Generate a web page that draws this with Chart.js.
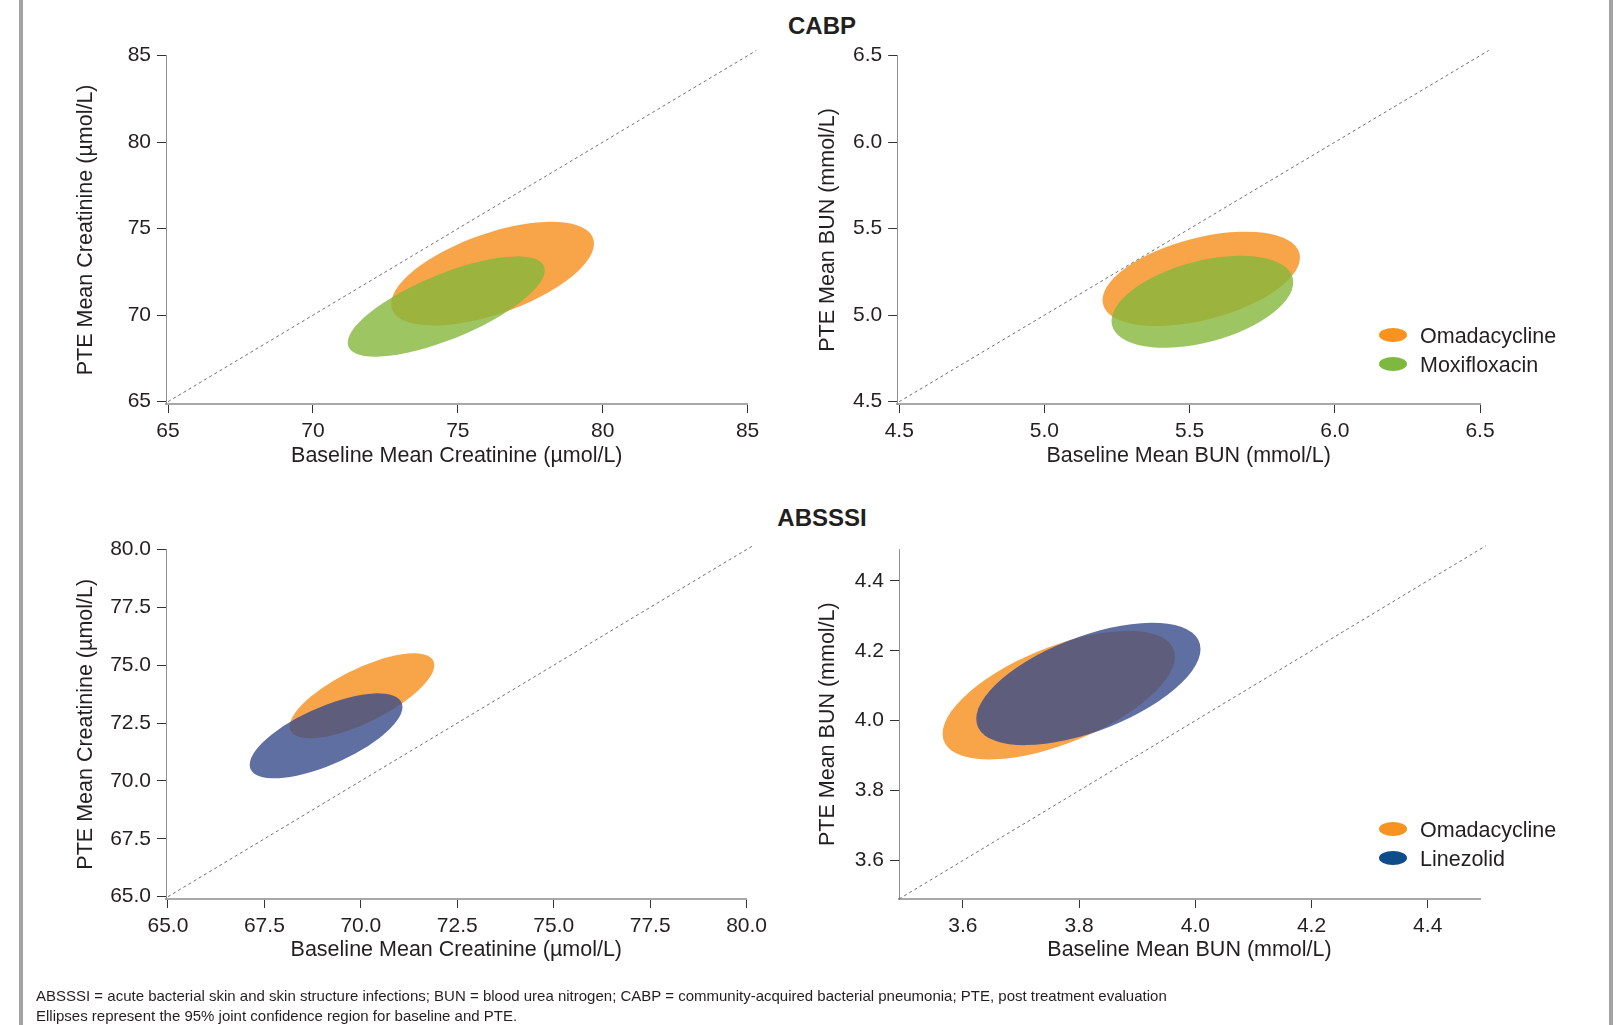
<!DOCTYPE html>
<html>
<head>
<meta charset="utf-8">
<script src="https://cdn.jsdelivr.net/npm/chart.js@4.4.1/dist/chart.umd.min.js"></script>
<style>
    html, body { margin: 0; padding: 0; background: #fff; }
    body { width: 1617px; height: 1025px; position: relative; overflow: hidden;
           font-family: "Liberation Sans", Arial, sans-serif; color: #231f20; }
    .frame { position: absolute; top: 0; width: 4px; height: 1025px; background: #a3a3a3; }
    .panel { position: absolute; }
    .section { position: absolute; left: 722px; width: 200px; text-align: center;
               font-weight: bold; font-size: 24px; line-height: 28px; }
    .legend { position: absolute; left: 1379px; font-size: 21.5px; }
    .legend div { height: 29px; line-height: 29px; white-space: nowrap; }
    .legend span { display: inline-block; width: 28px; height: 14px; border-radius: 50%;
                   vertical-align: middle; margin-right: 13px; position: relative; top: -2px; }
    .note { position: absolute; left: 36px; top: 986px; font-size: 15px; line-height: 20px; }
</style>
</head>
<body>
<div class="frame" style="left:19px"></div>
<div class="frame" style="left:1609px"></div>

<div class="section" style="top:12px">CABP</div>
<div class="section" style="top:504px">ABSSSI</div>

<canvas id="cabpCreat" class="panel"></canvas>
<canvas id="cabpBun" class="panel"></canvas>
<canvas id="absCreat" class="panel"></canvas>
<canvas id="absBun" class="panel"></canvas>

<div class="legend" id="legendCabp" style="top:322px"></div>
<div class="legend" id="legendAbs" style="top:816px"></div>

<div class="note">ABSSSI = acute bacterial skin and skin structure infections; BUN = blood urea nitrogen; CABP = community-acquired bacterial pneumonia; PTE, post treatment evaluation<br>Ellipses represent the 95% joint confidence region for baseline and PTE.</div>

<script>
// DATA

// arms in each study (first one is drawn first)
const cabpArms = ['Omadacycline', 'Moxifloxacin']
const absArms = ['Omadacycline', 'Linezolid']

// ellipses: centre, half width (x), half height (y), correlation
const cabpCreatCenterX = [76.2, 74.6]
const cabpCreatCenterY = [72.4, 70.5]
const cabpCreatHalfX = [3.5, 3.4]
const cabpCreatHalfY = [3.0, 2.9]
const cabpCreatCorr = [0.58, 0.72]

const cabpBunCenterX = [5.54, 5.544]
const cabpBunCenterY = [5.21, 5.078]
const cabpBunHalfX = [0.34, 0.313]
const cabpBunHalfY = [0.273, 0.266]
const cabpBunCorr = [0.45, 0.42]

const absCreatCenterX = [70.03, 69.1]
const absCreatCenterY = [73.68, 71.95]
const absCreatHalfX = [1.875, 1.98]
const absCreatHalfY = [1.835, 1.835]
const absCreatCorr = [0.72, 0.68]

const absBunCenterX = [3.765, 3.816]
const absBunCenterY = [4.073, 4.105]
const absBunHalfX = [0.2, 0.193]
const absBunHalfY = [0.184, 0.175]
const absBunCorr = [0.6, 0.57]

// tick labels
const cabpCreatTicks = [65, 70, 75, 80, 85]
const cabpBunTicks = [4.5, 5.0, 5.5, 6.0, 6.5]
const absCreatTicks = [65.0, 67.5, 70.0, 72.5, 75.0, 77.5, 80.0]
const absBunTicks = [3.6, 3.8, 4.0, 4.2, 4.4]

// line of identity (start, end)
const cabpCreatDiag = [65, 85.3]
const cabpBunDiag = [4.5, 6.53]
const absCreatDiag = [65, 80.2]
const absBunDiag = [3.49, 4.5]

// colours
const armFill = {
    'Omadacycline': 'rgba(246, 142, 29, 0.8)',
    'Moxifloxacin': 'rgba(132, 184, 60, 0.8)',
    'Linezolid': 'rgba(56, 75, 137, 0.8)'
}
const armSwatch = {
    'Omadacycline': '#F7931E',
    'Moxifloxacin': '#7DB93E',
    'Linezolid': '#0E4C8A'
}

Chart.defaults.font.family = '"Liberation Sans", Arial, sans-serif'
Chart.defaults.color = '#231f20'

// draws the confidence ellipses through the chart scales
const ellipsePlugin = {
    id: 'confEllipses',
    beforeDatasetsDraw(chart) {
        const ctx = chart.ctx
        const xs = chart.scales.x
        const ys = chart.scales.y
        for (let ds of chart.data.datasets) {
            if (!ds.ellipse) continue
            const c = ds.data[0]
            const e = ds.ellipse
            const px = xs.getPixelForValue(c.x)
            const py = ys.getPixelForValue(c.y)
            const kx = xs.getPixelForValue(c.x + 1) - px
            const ky = ys.getPixelForValue(c.y + 1) - py
            ctx.save()
            ctx.beginPath()
            ctx.save()
            ctx.transform(kx * e.rx, ky * e.ry * e.rho, 0, ky * e.ry * Math.sqrt(1 - e.rho * e.rho), px, py)
            ctx.arc(0, 0, 1, 0, Math.PI * 2)
            ctx.restore()
            ctx.fillStyle = ds.fillColor
            ctx.fill()
            ctx.restore()
        }
    }
}

const FS = 21.5
const LH = FS * 1.2

function makeAxis(min, max, ticks, decimals, title, size, isX, titlePad) {
    return {
        type: 'linear',
        position: isX ? 'bottom' : 'left',
        min: min,
        max: max,
        afterBuildTicks: s => { s.ticks = ticks.map(v => ({ value: v })) },
        afterFit: s => { if (isX) s.height = size; else s.width = size },
        ticks: {
            callback: v => v.toFixed(decimals),
            font: { size: 21 },
            color: '#231f20',
            padding: 6,
            maxRotation: 0,
            autoSkip: false
        },
        grid: {
            drawOnChartArea: false,
            drawTicks: true,
            tickLength: 9,
            color: '#333',
            tickColor: '#333',
            lineWidth: 1
        },
        border: {
            display: true,
            color: isX ? '#a8a8a8' : '#8f8f8f',
            width: isX ? 2 : 1
        },
        title: {
            display: true,
            text: title,
            font: { size: FS },
            color: '#231f20',
            padding: isX ? { top: 0, bottom: titlePad } : { top: titlePad, bottom: 0 }
        }
    }
}

function makePanel(id, geo, arms, cx, cy, hx, hy, rho, diag, xr, yr, ticks, dec, xTitle, yTitle) {
    const cv = document.getElementById(id)
    const [left, top, w, h] = geo.canvas
    const [al, at, ar, ab] = geo.area
    cv.width = w
    cv.height = h
    cv.style.left = left + 'px'
    cv.style.top = top + 'px'

    // set up
    const datasets = arms.map((arm, i) => ({
        label: arm,
        data: [{ x: cx[i], y: cy[i] }],
        ellipse: { rx: hx[i], ry: hy[i], rho: rho[i] },
        fillColor: armFill[arm],
        pointRadius: 0
    }))
    datasets.push({
        label: 'identity',
        data: [{ x: diag[0], y: diag[0] }, { x: diag[1], y: diag[1] }],
        showLine: true,
        borderColor: '#6f6f6f',
        borderWidth: 1,
        borderDash: [3, 3],
        pointRadius: 0,
        clip: false
    })

    // config
    const config = {
        type: 'scatter',
        data: { datasets: datasets },
        options: {
            responsive: false,
            animation: false,
            events: [],
            layout: { padding: { left: 0, top: at - top, right: left + w - ar, bottom: 0 } },
            plugins: { legend: { display: false }, tooltip: { enabled: false } },
            scales: {
                x: makeAxis(xr[0], xr[1], ticks, dec, xTitle, top + h - ab, true, top + h - geo.xTitleY - LH / 2),
                y: makeAxis(yr[0], yr[1], ticks, dec, yTitle, al - left, false, geo.yTitleX - left - LH / 2)
            }
        },
        plugins: [ellipsePlugin]
    }

    // render
    return new Chart(cv, config)
}

function makeLegend(id, arms) {
    const el = document.getElementById(id)
    for (let arm of arms) {
        const row = document.createElement('div')
        const sw = document.createElement('span')
        sw.style.background = armSwatch[arm]
        row.appendChild(sw)
        row.appendChild(document.createTextNode(arm))
        el.appendChild(row)
    }
}

const creatX = 'Baseline Mean Creatinine (µmol/L)'
const creatY = 'PTE Mean Creatinine (µmol/L)'
const bunX = 'Baseline Mean BUN (mmol/L)'
const bunY = 'PTE Mean BUN (mmol/L)'

// CABP
makePanel('cabpCreat',
    { canvas: [40, 30, 745, 460], area: [166, 55.7, 747.6, 404.1], yTitleX: 86, xTitleY: 456 },
    cabpArms, cabpCreatCenterX, cabpCreatCenterY, cabpCreatHalfX, cabpCreatHalfY, cabpCreatCorr,
    cabpCreatDiag, [64.93, 85], [64.86, 85], cabpCreatTicks, 0, creatX, creatY)

makePanel('cabpBun',
    { canvas: [790, 30, 800, 460], area: [897.2, 55.7, 1480, 404.1], yTitleX: 828, xTitleY: 456 },
    cabpArms, cabpBunCenterX, cabpBunCenterY, cabpBunHalfX, cabpBunHalfY, cabpBunCorr,
    cabpBunDiag, [4.493, 6.5], [4.486, 6.5], cabpBunTicks, 1, bunX, bunY)

// ABSSSI
makePanel('absCreat',
    { canvas: [40, 520, 745, 480], area: [166, 549.5, 746.6, 899], yTitleX: 86, xTitleY: 950.5 },
    absArms, absCreatCenterX, absCreatCenterY, absCreatHalfX, absCreatHalfY, absCreatCorr,
    absCreatDiag, [64.95, 80], [64.9, 80], absCreatTicks, 1, creatX, creatY)

makePanel('absBun',
    { canvas: [790, 520, 800, 480], area: [899, 549.3, 1480, 899], yTitleX: 828, xTitleY: 950.5 },
    absArms, absBunCenterX, absBunCenterY, absBunHalfX, absBunHalfY, absBunCorr,
    absBunDiag, [3.49, 4.49], [3.49, 4.49], absBunTicks, 1, bunX, bunY)

makeLegend('legendCabp', cabpArms)
makeLegend('legendAbs', absArms)
</script>
</body>
</html>
